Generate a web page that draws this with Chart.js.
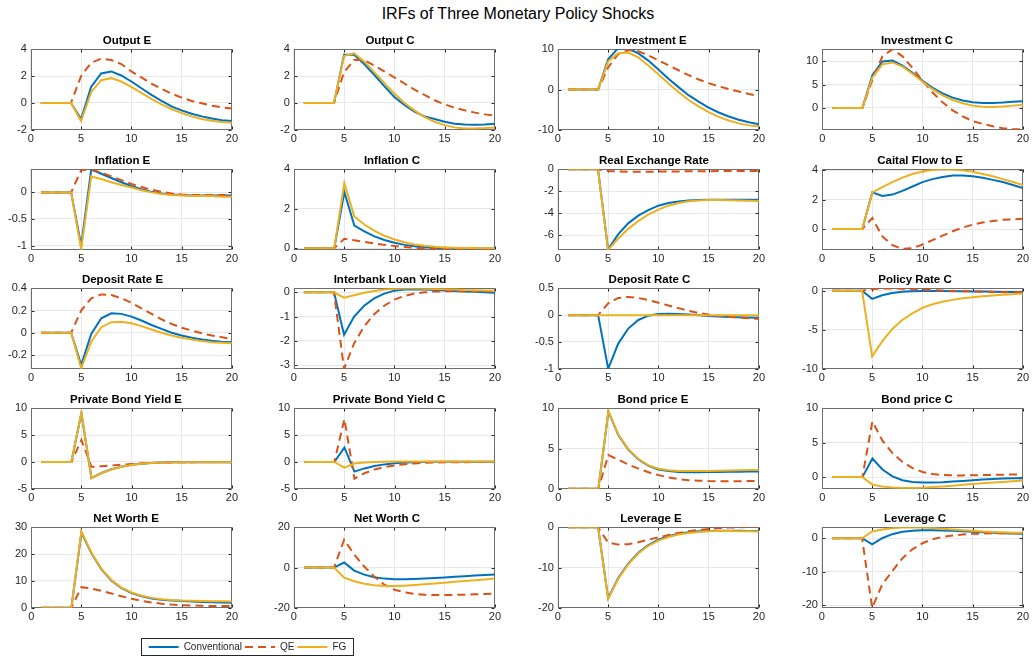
<!DOCTYPE html>
<html>
<head>
<meta charset="utf-8">
<script src="https://cdn.jsdelivr.net/npm/chart.js@4.4.1/dist/chart.umd.min.js"></script>
<style>
  body { margin: 0; background: #fff; width: 1036px; height: 659px; position: relative; overflow: hidden;
         font-family: "Liberation Sans", Arial, Helvetica, sans-serif; }
  #mainTitle { position: absolute; left: 0; top: 5px; width: 1036px; text-align: center; font-size: 16px; color: #000; }
  canvas.panel { position: absolute; }
  #legendBox { position: absolute; left: 141px; top: 638px; width: 211px; height: 16px;
               border: 1px solid #262626; background: #fff; overflow: hidden; }
  #legend { display: block; }
</style>
</head>
<body>
<div id="mainTitle">IRFs of Three Monetary Policy Shocks</div>
<div id="legendBox"><canvas id="legend" width="211" height="16"></canvas></div>
<script>
const periods = [1, 2, 3, 4, 5, 6, 7, 8, 9, 10, 11, 12, 13, 14, 15, 16, 17, 18, 19, 20]
const seriesNames = ['Conventional', 'QE', 'FG']
const panelTitles = [
  'Output E', 'Output C', 'Investment E', 'Investment C',
  'Inflation E', 'Inflation C', 'Real Exchange Rate', 'Caital Flow to E',
  'Deposit Rate E', 'Interbank Loan Yield', 'Deposit Rate C', 'Policy Rate C',
  'Private Bond Yield E', 'Private Bond Yield C', 'Bond price E', 'Bond price C',
  'Net Worth E', 'Net Worth C', 'Leverage E', 'Leverage C',
]

// responses, periods 1..20 (shock hits in period 5)
const conventional = [
  [0, 0, 0, 0, -1.2, 1.2, 2.2, 2.35, 2.05, 1.6, 1.1, 0.6, 0.15, -0.25, -0.55, -0.8, -1.0, -1.15, -1.28, -1.35],
  [0, 0, 0, 0, 3.6, 3.6, 2.9, 2.1, 1.25, 0.45, -0.15, -0.65, -1.0, -1.2, -1.4, -1.55, -1.6, -1.62, -1.6, -1.55],
  [0, 0, 0, 0, 7.5, 10.3, 10.2, 9.0, 7.2, 5.0, 2.7, 0.6, -1.4, -3.0, -4.5, -5.7, -6.7, -7.5, -8.1, -8.6],
  [0, 0, 0, 0, 7.0, 9.9, 10.1, 9.0, 7.5, 5.8, 4.3, 3.1, 2.2, 1.6, 1.2, 1.05, 1.05, 1.15, 1.3, 1.45],
  [0, 0, 0, 0, -1.0, 0.43, 0.35, 0.27, 0.19, 0.12, 0.06, 0.01, -0.02, -0.04, -0.05, -0.06, -0.06, -0.06, -0.06, -0.06],
  [0, 0, 0, 0, 2.85, 1.15, 0.85, 0.6, 0.42, 0.28, 0.17, 0.1, 0.05, 0.02, 0.0, -0.01, -0.02, -0.02, -0.02, -0.02],
  [0, 0, 0, 0, -7.25, -5.9, -4.9, -4.2, -3.7, -3.3, -3.05, -2.92, -2.84, -2.79, -2.76, -2.75, -2.75, -2.75, -2.75, -2.75],
  [0, 0, 0, 0, 2.5, 2.25, 2.35, 2.6, 2.9, 3.2, 3.4, 3.55, 3.65, 3.65, 3.6, 3.5, 3.35, 3.2, 3.0, 2.8],
  [0, 0, 0, 0, -0.29, -0.01, 0.13, 0.175, 0.17, 0.145, 0.11, 0.07, 0.035, 0.0, -0.025, -0.045, -0.06, -0.072, -0.08, -0.085],
  [0, 0, 0, 0, -1.75, -1.0, -0.55, -0.25, -0.05, 0.07, 0.12, 0.13, 0.12, 0.1, 0.08, 0.06, 0.04, 0.02, 0.0, -0.02],
  [0, 0, 0, 0, -1.0, -0.53, -0.25, -0.09, -0.01, 0.02, 0.025, 0.02, 0.01, 0.0, -0.015, -0.025, -0.035, -0.04, -0.045, -0.05],
  [0, 0, 0, 0, -1.05, -0.6, -0.3, -0.15, -0.08, -0.05, -0.05, -0.06, -0.07, -0.08, -0.1, -0.12, -0.14, -0.16, -0.18, -0.2],
  [0, 0, 0, 0, 9.1, -3.0, -2.05, -1.35, -0.88, -0.53, -0.32, -0.19, -0.11, -0.07, -0.05, -0.04, -0.03, -0.03, -0.03, -0.03],
  [0, 0, 0, 0, 2.7, -1.8, -1.2, -0.75, -0.45, -0.25, -0.12, -0.05, 0.0, 0.02, 0.03, 0.03, 0.03, 0.02, 0.02, 0.02],
  [0, 0, 0, 0, 9.6, 6.65, 4.85, 3.65, 2.85, 2.4, 2.2, 2.1, 2.07, 2.07, 2.08, 2.1, 2.12, 2.13, 2.14, 2.15],
  [0, 0, 0, 0, 2.7, 1.1, 0.1, -0.45, -0.7, -0.8, -0.8, -0.75, -0.65, -0.55, -0.45, -0.35, -0.28, -0.22, -0.18, -0.15],
  [0, 0, 0, 0, 28.0, 20.3, 14.3, 10.1, 7.3, 5.5, 4.3, 3.5, 3.0, 2.7, 2.5, 2.35, 2.2, 2.1, 2.0, 1.9],
  [0, 0, 0, 0, 2.5, -1.5, -3.5, -4.8, -5.5, -5.8, -5.8, -5.7, -5.5, -5.2, -4.9, -4.6, -4.3, -4.0, -3.7, -3.4],
  [0, 0, 0, 0, -17.6, -12.6, -9.0, -6.3, -4.4, -3.1, -2.2, -1.6, -1.2, -1.0, -0.9, -0.85, -0.85, -0.87, -0.9, -0.95],
  [0, 0, 0, 0, -1.8, 0.0, 1.2, 1.9, 2.2, 2.35, 2.35, 2.3, 2.2, 2.1, 1.95, 1.8, 1.65, 1.5, 1.4, 1.3],
]
const qe = [
  [0, 0, 0, 0, 2.0, 3.0, 3.3, 3.2, 2.9, 2.35, 1.9, 1.45, 1.05, 0.7, 0.4, 0.15, -0.02, -0.2, -0.32, -0.42],
  [0, 0, 0, 0, 2.3, 3.2, 3.2, 2.8, 2.35, 1.9, 1.45, 1.0, 0.6, 0.2, -0.1, -0.35, -0.55, -0.72, -0.85, -0.95],
  [0, 0, 0, 0, 5.5, 8.8, 9.8, 9.5, 8.5, 7.3, 6.0, 4.8, 3.6, 2.5, 1.6, 0.8, 0.1, -0.5, -1.1, -1.6],
  [0, 0, 0, 0, 6.0, 11.0, 12.5, 11.0, 8.5, 5.8, 3.3, 1.2, -0.5, -1.8, -2.8, -3.4, -3.9, -4.3, -4.5, -4.65],
  [0, 0, 0, 0, 0.42, 0.43, 0.37, 0.3, 0.23, 0.16, 0.1, 0.05, 0.01, -0.02, -0.04, -0.05, -0.05, -0.05, -0.05, -0.05],
  [0, 0, 0, 0, 0.48, 0.4, 0.32, 0.24, 0.17, 0.11, 0.06, 0.02, -0.01, -0.03, -0.04, -0.05, -0.05, -0.05, -0.05, -0.05],
  [0, 0, 0, 0, -0.15, -0.2, -0.22, -0.22, -0.22, -0.21, -0.2, -0.19, -0.18, -0.17, -0.17, -0.16, -0.16, -0.15, -0.15, -0.15],
  [0, 0, 0, 0, 0.75, -0.5, -1.1, -1.35, -1.3, -1.05, -0.75, -0.45, -0.15, 0.1, 0.3, 0.45, 0.55, 0.63, 0.67, 0.7],
  [0, 0, 0, 0, 0.2, 0.31, 0.345, 0.34, 0.31, 0.27, 0.22, 0.17, 0.12, 0.08, 0.045, 0.02, -0.005, -0.025, -0.04, -0.055],
  [0, 0, 0, 0, -3.15, -2.1, -1.4, -0.9, -0.55, -0.3, -0.15, -0.05, 0.0, 0.03, 0.04, 0.05, 0.05, 0.05, 0.05, 0.05],
  [0, 0, 0, 0, 0.22, 0.32, 0.34, 0.32, 0.28, 0.23, 0.18, 0.13, 0.08, 0.04, 0.01, -0.01, -0.03, -0.045, -0.06, -0.07],
  [0, 0, 0, 0, 0.2, 0.28, 0.28, 0.24, 0.18, 0.12, 0.06, 0.01, -0.03, -0.07, -0.1, -0.13, -0.16, -0.19, -0.22, -0.25],
  [0, 0, 0, 0, 4.1, -0.9, -0.8, -0.65, -0.5, -0.37, -0.26, -0.18, -0.12, -0.08, -0.05, -0.03, -0.02, -0.01, -0.01, 0.0],
  [0, 0, 0, 0, 8.0, -3.1, -2.1, -1.4, -0.95, -0.65, -0.42, -0.27, -0.17, -0.1, -0.06, -0.04, -0.03, -0.02, -0.02, -0.02],
  [0, 0, 0, 0, 4.2, 3.6, 3.0, 2.5, 2.05, 1.7, 1.4, 1.2, 1.07, 1.0, 0.96, 0.95, 0.95, 0.95, 0.96, 0.97],
  [0, 0, 0, 0, 8.1, 5.3, 3.5, 2.2, 1.3, 0.75, 0.45, 0.3, 0.25, 0.25, 0.27, 0.3, 0.32, 0.35, 0.37, 0.4],
  [0, 0, 0, 0, 7.7, 7.2, 6.3, 5.3, 4.3, 3.4, 2.6, 2.0, 1.5, 1.2, 1.0, 0.85, 0.75, 0.7, 0.65, 0.65],
  [0, 0, 0, 0, 13.8, 6.5, 0.5, -4.5, -8.5, -11.0, -12.3, -13.1, -13.5, -13.7, -13.7, -13.6, -13.5, -13.3, -13.1, -12.9],
  [0, 0, 0, 0, -3.8, -4.3, -4.2, -3.7, -3.1, -2.5, -1.9, -1.4, -1.0, -0.65, -0.4, -0.2, -0.08, 0.0, 0.05, 0.08],
  [0, 0, 0, 0, -20.7, -13.8, -9.8, -6.0, -3.3, -1.5, -0.3, 0.4, 0.8, 1.1, 1.3, 1.4, 1.45, 1.5, 1.5, 1.5],
]
const fg = [
  [0, 0, 0, 0, -1.35, 0.8, 1.7, 1.85, 1.6, 1.2, 0.75, 0.3, -0.1, -0.45, -0.75, -1.0, -1.2, -1.33, -1.42, -1.48],
  [0, 0, 0, 0, 3.5, 3.7, 3.1, 2.3, 1.5, 0.7, 0.0, -0.55, -1.05, -1.4, -1.65, -1.82, -1.9, -1.9, -1.87, -1.82],
  [0, 0, 0, 0, 7.0, 9.0, 9.2, 8.0, 6.0, 3.8, 1.5, -0.6, -2.6, -4.2, -5.6, -6.8, -7.7, -8.4, -8.9, -9.2],
  [0, 0, 0, 0, 6.5, 9.3, 9.7, 8.8, 7.3, 5.6, 4.0, 2.7, 1.7, 1.0, 0.5, 0.25, 0.2, 0.3, 0.5, 0.7],
  [0, 0, 0, 0, -1.07, 0.3, 0.25, 0.19, 0.14, 0.09, 0.04, 0.0, -0.03, -0.05, -0.06, -0.07, -0.07, -0.07, -0.08, -0.08],
  [0, 0, 0, 0, 3.3, 1.6, 1.2, 0.88, 0.63, 0.44, 0.3, 0.19, 0.12, 0.07, 0.04, 0.02, 0.01, 0.01, 0.0, 0.0],
  [0, 0, 0, 0, -7.3, -6.3, -5.4, -4.7, -4.1, -3.65, -3.3, -3.05, -2.9, -2.82, -2.78, -2.78, -2.8, -2.82, -2.85, -2.87],
  [0, 0, 0, 0, 2.5, 2.85, 3.2, 3.5, 3.75, 3.92, 4.02, 4.07, 4.05, 4.0, 3.9, 3.75, 3.6, 3.4, 3.2, 3.0],
  [0, 0, 0, 0, -0.32, -0.08, 0.05, 0.095, 0.1, 0.085, 0.06, 0.03, 0.0, -0.025, -0.045, -0.06, -0.075, -0.085, -0.09, -0.095],
  [0, 0, 0, 0, -0.22, -0.12, -0.02, 0.06, 0.12, 0.15, 0.16, 0.16, 0.15, 0.14, 0.13, 0.12, 0.1, 0.09, 0.08, 0.07],
  [0, 0, 0, 0, 0, 0, 0, 0, 0, 0, 0, 0, 0, 0, 0, 0, 0, 0, 0, 0],
  [0, 0, 0, 0, -8.4, -6.5, -4.9, -3.75, -2.9, -2.2, -1.75, -1.42, -1.18, -0.98, -0.84, -0.72, -0.62, -0.53, -0.45, -0.38],
  [0, 0, 0, 0, 9.2, -3.05, -2.1, -1.4, -0.9, -0.55, -0.33, -0.2, -0.12, -0.08, -0.05, -0.04, -0.03, -0.03, -0.03, -0.03],
  [0, 0, 0, 0, -1.05, -0.3, -0.1, 0.0, 0.05, 0.08, 0.1, 0.1, 0.1, 0.1, 0.09, 0.09, 0.08, 0.08, 0.07, 0.07],
  [0, 0, 0, 0, 9.65, 6.7, 4.9, 3.7, 2.9, 2.5, 2.3, 2.2, 2.2, 2.2, 2.22, 2.25, 2.28, 2.3, 2.32, 2.33],
  [0, 0, 0, 0, -1.1, -1.35, -1.5, -1.6, -1.6, -1.55, -1.45, -1.35, -1.25, -1.12, -1.0, -0.9, -0.8, -0.7, -0.6, -0.5],
  [0, 0, 0, 0, 28.5, 20.5, 14.5, 10.3, 7.5, 5.7, 4.5, 3.7, 3.2, 2.9, 2.7, 2.6, 2.5, 2.45, 2.4, 2.35],
  [0, 0, 0, 0, -5.0, -6.8, -8.0, -8.8, -9.2, -9.2, -9.0, -8.7, -8.3, -7.9, -7.5, -7.1, -6.7, -6.3, -5.9, -5.5],
  [0, 0, 0, 0, -17.8, -12.8, -9.2, -6.5, -4.6, -3.3, -2.4, -1.8, -1.4, -1.15, -1.0, -0.95, -0.95, -0.97, -1.0, -1.05],
  [0, 0, 0, 0, 2.0, 2.6, 3.0, 3.2, 3.25, 3.2, 3.05, 2.85, 2.6, 2.4, 2.2, 2.0, 1.85, 1.75, 1.65, 1.6],
]

const yLimits = [
  [-2, 4], [-2, 4], [-10, 10], [-4.65, 12.5],
  [-1.08, 0.434], [-0.08, 4], [-7.3, 0], [-1.41, 4.07],
  [-0.324, 0.4], [-3.15, 0.167], [-1, 0.5], [-10, 0.3],
  [-5, 10], [-5, 10], [0, 10], [-1.7, 10],
  [0, 30], [-20, 20], [-20, 0], [-20.7, 3.25],
]
const yTicks = [
  [-2, 0, 2, 4], [-2, 0, 2, 4], [-10, 0, 10], [0, 5, 10],
  [-1, -0.5, 0], [0, 2, 4], [-6, -4, -2, 0], [0, 2, 4],
  [-0.2, 0, 0.2, 0.4], [-3, -2, -1, 0], [-1, -0.5, 0, 0.5], [-10, -5, 0],
  [-5, 0, 5, 10], [-5, 0, 5, 10], [0, 5, 10], [0, 5, 10],
  [0, 10, 20, 30], [-20, 0, 20], [-20, -10, 0], [-20, -10, 0],
]
const xTicks = [0, 5, 10, 15, 20]

// layout of the axes boxes in page pixels
const colLeft = [31, 294, 558, 822]
const rowTop = [49, 169, 288, 408, 527]
const plotW = 201
const plotH = 80

const colors = ['#0072BD', '#D95319', '#EDB120']
const dashes = [[], [8, 5], []]
const fontFamily = '"Liberation Sans", Arial, Helvetica, sans-serif'
const axisColor = '#262626'

// MATLAB-style box with inward tick marks
const boxPlugin = {
  id: 'box',
  beforeDatasetsDraw(chart) {
    const { ctx, chartArea: a, scales } = chart
    const l = Math.round(a.left) + 0.5
    const r = Math.round(a.right) - 0.5
    const t = Math.round(a.top) + 0.5
    const b = Math.round(a.bottom) - 0.5
    ctx.save()
    ctx.strokeStyle = axisColor
    ctx.lineWidth = 1
    ctx.beginPath()
    scales.x.ticks.forEach(tk => {
      const px = Math.round(scales.x.getPixelForValue(tk.value)) + 0.5
      ctx.moveTo(px, b); ctx.lineTo(px, b - 3)
      ctx.moveTo(px, t); ctx.lineTo(px, t + 3)
    })
    scales.y.ticks.forEach(tk => {
      const py = Math.round(scales.y.getPixelForValue(tk.value)) + 0.5
      ctx.moveTo(l, py); ctx.lineTo(l + 3, py)
      ctx.moveTo(r, py); ctx.lineTo(r - 3, py)
    })
    ctx.stroke()
    ctx.strokeStyle = '#6e6e6e'
    ctx.strokeRect(l, t, r - l, b - t)
    ctx.restore()
  },
}

function makePanel(i) {
  const r = Math.floor(i / 4)
  const c = i % 4
  const canvas = document.createElement('canvas')
  canvas.className = 'panel'
  canvas.width = 280
  canvas.height = 130
  document.body.appendChild(canvas)

  const series = [conventional[i], qe[i], fg[i]]
  const chart = new Chart(canvas, {
    type: 'line',
    data: {
      labels: periods,
      datasets: series.map((vals, k) => ({
        label: seriesNames[k],
        data: periods.map((p, j) => ({ x: p, y: vals[j] })),
        borderColor: colors[k],
        backgroundColor: colors[k],
        borderWidth: 2,
        borderDash: dashes[k],
        pointRadius: 0,
        tension: 0,
        order: 2 - k,
      })),
    },
    options: {
      responsive: false,
      maintainAspectRatio: false,
      animation: false,
      layout: { padding: 0 },
      plugins: {
        legend: { display: false },
        tooltip: { enabled: false },
        title: {
          display: true,
          text: panelTitles[i],
          color: '#000',
          font: { family: fontFamily, size: 11.5, weight: 'bold' },
          padding: { top: 0, bottom: 1.5 },
        },
      },
      scales: {
        x: {
          type: 'linear',
          min: 0,
          max: 20,
          afterBuildTicks: s => { s.ticks = xTicks.map(v => ({ value: v })) },
          ticks: { color: axisColor, font: { family: fontFamily, size: 11 }, padding: 3, maxRotation: 0 },
          grid: { color: '#e8e8e8', drawTicks: false },
          border: { display: false },
        },
        y: {
          type: 'linear',
          min: yLimits[i][0],
          max: yLimits[i][1],
          afterBuildTicks: s => { s.ticks = yTicks[i].map(v => ({ value: v })) },
          ticks: { color: axisColor, font: { family: fontFamily, size: 11 }, padding: 4, callback: v => String(v) },
          grid: { color: '#e8e8e8', drawTicks: false },
          border: { display: false },
        },
      },
    },
    plugins: [boxPlugin],
  })

  // size the canvas so the plot area matches the target box, then place it
  const a = chart.chartArea
  const extraW = chart.width - (a.right - a.left)
  const extraH = chart.height - (a.bottom - a.top)
  chart.resize(Math.round(plotW + extraW), Math.round(plotH + extraH))
  const b = chart.chartArea
  canvas.style.left = Math.round(colLeft[c] - b.left) + 'px'
  canvas.style.top = Math.round(rowTop[r] - b.top) + 'px'
}

panelTitles.forEach((t, i) => makePanel(i))

new Chart(document.getElementById('legend'), {
  type: 'line',
  data: {
    labels: [],
    datasets: seriesNames.map((n, k) => ({
      label: n, data: [], borderColor: colors[k], backgroundColor: colors[k], borderDash: dashes[k],
    })),
  },
  options: {
    responsive: false,
    maintainAspectRatio: false,
    animation: false,
    layout: { padding: 0 },
    scales: { x: { display: false }, y: { display: false } },
    plugins: {
      tooltip: { enabled: false },
      legend: {
        display: true,
        position: 'top',
        maxHeight: 16,
        labels: {
          usePointStyle: true,
          pointStyle: 'line',
          pointStyleWidth: 30,
          boxWidth: 30,
          padding: 3,
          color: axisColor,
          font: { family: fontFamily, size: 10 },
          generateLabels: ch => ch.data.datasets.map((d, k) => ({
            text: d.label,
            strokeStyle: d.borderColor,
            fillStyle: d.borderColor,
            fontColor: axisColor,
            lineWidth: 2,
            lineDash: d.borderDash,
            pointStyle: 'line',
            hidden: false,
            datasetIndex: k,
          })),
        },
      },
    },
  },
})
</script>
</body>
</html>
